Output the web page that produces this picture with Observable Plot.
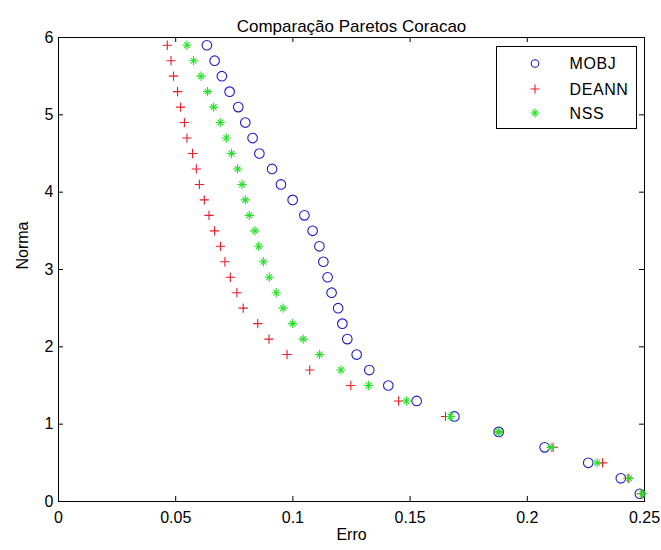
<!DOCTYPE html>
<html><head><meta charset="utf-8">
<script src="https://cdn.jsdelivr.net/npm/d3@7"></script>
<script src="https://cdn.jsdelivr.net/npm/@observablehq/plot@0.6"></script>
<style>
body{margin:0;background:#fff}
svg{font-family:"Liberation Sans",Arial,sans-serif}
</style>
</head><body><div id="chart"></div>
<script>
const title = "Comparação Paretos Coracao";
const xLabel = "Erro";
const yLabel = "Norma";
const seriesNames = ["MOBJ", "DEANN", "NSS"];
const seriesColors = ["#1c1cc8", "#ea1c28", "#22e022"];

const norma = [5.9, 5.7, 5.5, 5.3, 5.1, 4.9, 4.7, 4.5, 4.3, 4.1, 3.9, 3.7, 3.5, 3.3, 3.1,
               2.9, 2.7, 2.5, 2.3, 2.1, 1.9, 1.7, 1.5, 1.3, 1.1, 0.9, 0.7, 0.5, 0.3, 0.1];
const mobj  = [0.0633, 0.0666, 0.0697, 0.0730, 0.0767, 0.0797, 0.0828, 0.0857, 0.0911, 0.0949,
               0.0999, 0.1049, 0.1084, 0.1113, 0.1130, 0.1148, 0.1165, 0.1193, 0.1211, 0.1232,
               0.1272, 0.1326, 0.1407, 0.1528, 0.1689, 0.1878, 0.2074, 0.2260, 0.2399, 0.2480];
const deann = [0.0464, 0.0480, 0.0491, 0.0508, 0.0521, 0.0537, 0.0548, 0.0572, 0.0588, 0.0601,
               0.0622, 0.0642, 0.0666, 0.0691, 0.0710, 0.0733, 0.0761, 0.0788, 0.0850, 0.0898,
               0.0975, 0.1072, 0.1247, 0.1451, 0.1651, 0.1878, 0.2110, 0.2321, 0.2430, 0.2486];
const nss   = [0.0548, 0.0576, 0.0608, 0.0636, 0.0662, 0.0690, 0.0716, 0.0738, 0.0764, 0.0783,
               0.0797, 0.0814, 0.0838, 0.0854, 0.0874, 0.0899, 0.0929, 0.0958, 0.0999, 0.1044,
               0.1114, 0.1205, 0.1323, 0.1484, 0.1672, 0.1878, 0.2102, 0.2298, 0.2435, 0.2491];

const xTicks = [0, 0.05, 0.1, 0.15, 0.2, 0.25];
const xTickLabels = ["0", "0.05", "0.1", "0.15", "0.2", "0.25"];
const yTicks = [0, 1, 2, 3, 4, 5, 6];
const yTickLabels = ["0", "1", "2", "3", "4", "5", "6"];

const rows = (name, xs) => xs.map((x, i) => ({serie: name, erro: x, norma: norma[i]}));
const dMOBJ = rows("MOBJ", mobj);
const dDEANN = rows("DEANN", deann);
const dNSS = rows("NSS", nss);

const W = 661, H = 550, mL = 58, mT = 37, mR = 17, mB = 49;
const innerW = W - mL - mR, innerH = H - mT - mB, tk = 5;
const sw = 1.1;

const plot = Plot.plot({
  width: W, height: H,
  marginLeft: mL, marginTop: mT, marginRight: mR, marginBottom: mB,
  style: {fontSize: "16px", fontFamily: '"Liberation Sans",Arial,sans-serif', background: "white", color: "black", overflow: "visible"},
  x: {domain: [0, 0.25]},
  y: {domain: [0, 6]},
  marks: [
    Plot.tickX(xTicks, {x: d => d, insetTop: innerH - tk, stroke: "black"}),
    Plot.tickX(xTicks, {x: d => d, insetBottom: innerH - tk, stroke: "black"}),
    Plot.tickY(yTicks, {y: d => d, insetRight: innerW - tk, stroke: "black"}),
    Plot.tickY(yTicks, {y: d => d, insetLeft: innerW - tk, stroke: "black"}),
    Plot.frame({stroke: "black"}),
    Plot.axisX({ticks: xTicks, tickFormat: d => xTickLabels[xTicks.indexOf(d)], tickSize: 0, tickPadding: 10, label: null, letterSpacing: 0.6}),
    Plot.axisY({ticks: yTicks, tickFormat: d => yTickLabels[yTicks.indexOf(d)], tickSize: 0, tickPadding: 5, label: null}),
    Plot.dot(dMOBJ, {x: "erro", y: "norma", symbol: "circle", r: 4.8, stroke: seriesColors[0], fill: "none", strokeWidth: sw}),
    Plot.dot(dDEANN, {x: "erro", y: "norma", symbol: "plus", r: 3.1, stroke: seriesColors[1], strokeWidth: sw}),
    Plot.dot(dNSS, {x: "erro", y: "norma", symbol: "plus", r: 3.1, stroke: seriesColors[2], strokeWidth: sw}),
    Plot.dot(dNSS, {x: "erro", y: "norma", symbol: "times", r: 2.7, stroke: seriesColors[2], strokeWidth: sw}),
    Plot.text([title], {frameAnchor: "top", dy: -18, fontSize: 17, letterSpacing: 0.4}),
    Plot.text([xLabel], {frameAnchor: "bottom", dy: 38, fontSize: 16, letterSpacing: 0.5}),
    Plot.text([yLabel], {frameAnchor: "left", dx: -36, rotate: -90, fontSize: 16, letterSpacing: 0.5})
  ]
});
document.getElementById("chart").appendChild(plot);

// Legend (MATLAB-style box in the upper right)
const svg = d3.select(plot);
const lg = svg.append("g").attr("transform", "translate(496.5,46.5)");
lg.append("rect").attr("width", 140).attr("height", 82).attr("fill", "white").attr("stroke", "black");
const rowY = [17, 42.5, 66.5];
seriesNames.forEach((name, i) => {
  const g = lg.append("g").attr("transform", `translate(38.5,${rowY[i]})`)
    .attr("stroke", seriesColors[i]).attr("fill", "none").attr("stroke-width", sw);
  if (i === 0) g.append("circle").attr("r", 3.8);
  if (i === 1) g.append("path").attr("d", "M-4.5,0H4.5M0,-4.5V4.5");
  if (i === 2) g.append("path").attr("d", "M-4.5,0H4.5M0,-4.5V4.5M-2.8,-2.8L2.8,2.8M-2.8,2.8L2.8,-2.8");
  lg.append("text").attr("x", 73).attr("y", rowY[i]).attr("dy", "0.36em")
    .attr("text-anchor", "start")
    .attr("font-size", 16).attr("letter-spacing", 0.6).attr("fill", "black").text(name);
});
</script>
</body></html>
